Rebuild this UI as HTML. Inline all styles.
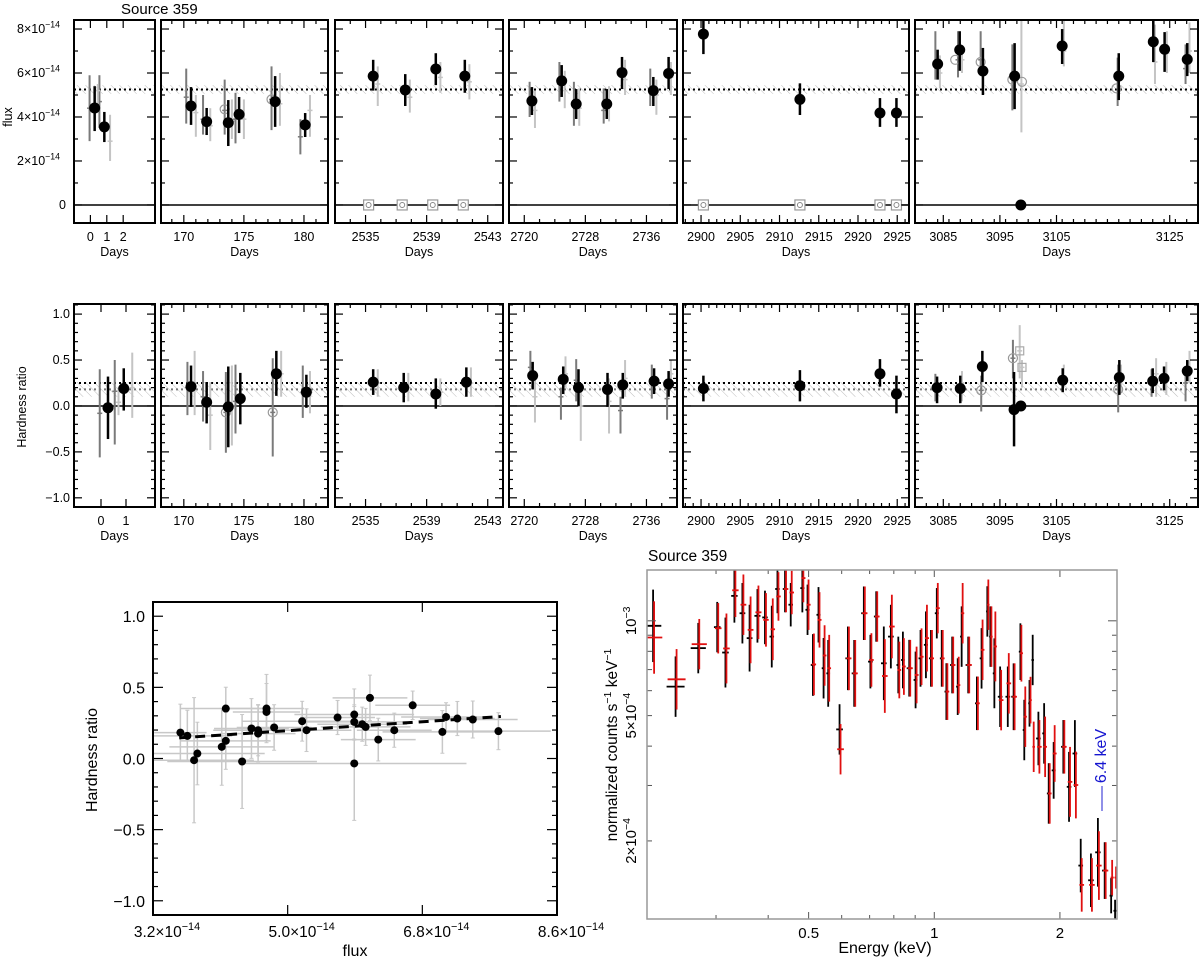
<!DOCTYPE html>
<html><head><meta charset="utf-8"><title>Source 359</title>
<style>
html,body{margin:0;padding:0;background:#fff;}
svg{display:block;font-family:"Liberation Sans",sans-serif;}
</style></head>
<body>
<svg id="fig" width="1200" height="962" viewBox="0 0 1200 962" xmlns="http://www.w3.org/2000/svg">
<defs>
<pattern id="hatch" patternUnits="userSpaceOnUse" width="6" height="6" patternTransform="rotate(-45)">
<line x1="0" y1="0" x2="0" y2="6" stroke="#bdbdbd" stroke-width="1"/>
</pattern>
</defs>
<text x="121" y="14" font-size="15">Source 359</text>
<g id="top"></g>
<g id="mid"></g>
<g id="scat"></g>
<g id="spec"></g>
</svg>
<script>
// ===== Flux light curve (units 1e-14) =====
const fPanel=[0,0,1,1,1,1,1,1,2,2,2,2,3,3,3,3,3,3,3,4,4,4,4,5,5,5,5,5,5,5,5,5,5];
const fDay=[0.26,0.85,170.6,171.9,173.7,174.6,177.6,180.1,2535.5,2537.6,2539.6,2541.5,2721.0,2724.9,2726.8,2730.8,2732.8,2736.9,2738.9,2900.3,2912.6,2922.8,2924.9,3084.0,3087.9,3092.0,3097.6,3098.7,3106.0,3116.0,3122.1,3124.1,3128.1];
const fVal=[4.41,3.55,4.5,3.79,3.74,4.12,4.7,3.64,5.86,5.23,6.18,5.86,4.73,5.64,4.59,4.59,6.02,5.2,5.98,7.77,4.8,4.18,4.18,6.41,7.05,6.09,5.86,0.0,7.23,5.86,7.42,7.08,6.62];
const fLo=[3.36,2.86,3.64,3.18,2.68,3.27,3.55,3.09,5.2,4.5,5.45,5.1,4.09,4.91,3.91,3.91,5.27,4.5,5.27,6.86,4.09,3.55,3.55,5.7,6.1,5.0,4.36,0.0,6.41,4.77,6.5,6.05,5.86];
const fHi=[5.4,4.23,5.36,4.41,4.77,4.91,5.86,4.18,6.6,5.95,6.9,6.6,5.36,6.36,5.27,5.27,6.73,5.82,6.73,8.4,5.53,4.86,4.86,7.06,7.9,7.14,7.36,0.0,8.0,6.9,8.4,7.86,7.36];
const gfPanel=[0,0,0,0,1,1,1,1,1,1,1,1,1,1,1,1,2,2,2,2,3,3,3,3,3,3,3,3,3,3,3,3,5,5,5,5,5,5,5,5,5,5,5,5,5];
const gfDay=[-0.05,0.55,1.2,0.45,170.2,171.0,171.6,172.2,173.4,174.0,174.3,175.0,177.3,178.0,179.7,180.5,2535.8,2537.9,2539.9,2541.8,2720.7,2721.4,2724.6,2725.3,2726.5,2727.2,2730.4,2731.1,2733.2,2736.5,2737.3,2739.2,3083.6,3084.4,3087.6,3088.3,3091.6,3097.2,3098.8,3106.3,3115.8,3122.4,3124.5,3127.8,3128.5];
const gfVal=[4.4,4.7,2.9,5.2,4.9,4.2,3.9,3.6,4.3,3.8,3.9,3.9,4.8,4.6,3.1,4.3,5.5,4.9,5.8,5.6,4.8,4.3,5.5,5.2,4.6,4.4,4.3,4.6,5.7,5.3,5.0,5.8,6.5,6.0,6.6,6.6,6.6,5.8,5.5,7.0,5.7,6.5,6.9,6.2,7.0];
const gfLo=[2.9,3.5,2.0,4.6,3.7,3.1,3.2,2.9,3.2,3.0,2.8,3.0,3.4,3.6,2.3,3.1,4.5,4.2,5.1,4.8,4.0,3.5,4.7,4.4,3.6,3.6,3.7,3.8,5.0,4.5,4.1,5.0,5.7,5.3,5.8,6.0,5.9,4.3,3.3,6.3,4.5,5.5,6.0,5.5,6.0];
const gfHi=[5.9,5.9,4.1,5.5,6.2,5.0,5.0,4.4,5.7,4.8,5.1,4.8,6.3,6.0,3.9,5.0,6.3,5.7,6.5,6.4,5.6,5.2,6.5,6.1,5.6,5.3,5.3,5.4,6.6,6.2,5.7,6.5,7.9,6.8,7.9,7.1,7.9,7.3,8.5,8.4,6.7,8.2,7.9,7.3,8.3];
const gfTone=[0,0,1,1,0,1,0,1,0,1,0,1,0,1,0,1,1,1,1,1,0,1,0,1,0,1,0,1,1,0,1,1,0,1,0,1,0,0,1,1,0,1,1,0,1];
const fOpenPanel=[1,1,5,5,5,5,5];
const fOpenDay=[173.4,177.3,3087.1,3091.6,3097.2,3098.9,3115.6];
const fOpenVal=[4.35,4.8,6.6,6.5,5.7,5.6,5.3];
const fZeroPanel=[2,2,2,2,4,4,4,4];
const fZeroDay=[2535.2,2537.4,2539.4,2541.4,2900.3,2912.6,2922.8,2924.9];
const fMean=[5.25];
const fBand=[5.05,5.45];
const fYTicks=[0,2,4,6,8];

// ===== Hardness ratio light curve =====
const hPanel=[0,0,1,1,1,1,1,1,2,2,2,2,3,3,3,3,3,3,3,4,4,4,4,5,5,5,5,5,5,5,5,5,5];
const hDay=[0.28,0.91,170.6,171.9,173.7,174.7,177.7,180.2,2535.5,2537.5,2539.6,2541.6,2721.1,2725.1,2727.1,2730.9,2732.9,2737.0,2738.9,2900.3,2912.6,2922.8,2924.9,3083.9,3088.0,3091.9,3097.5,3098.7,3106.1,3116.1,3122.0,3124.0,3128.1];
const hVal=[-0.02,0.19,0.21,0.04,-0.01,0.08,0.35,0.15,0.26,0.2,0.13,0.26,0.33,0.29,0.2,0.18,0.23,0.27,0.24,0.19,0.22,0.35,0.13,0.2,0.19,0.43,-0.04,0.0,0.28,0.31,0.27,0.3,0.38];
const hLo=[-0.36,-0.05,-0.01,-0.19,-0.45,-0.2,0.11,-0.02,0.12,0.04,-0.03,0.1,0.18,0.13,0.0,-0.01,0.08,0.13,0.1,0.05,0.05,0.21,-0.08,0.03,0.03,0.26,-0.44,0.0,0.15,0.12,0.14,0.17,0.27];
const hHi=[0.32,0.41,0.44,0.26,0.43,0.36,0.6,0.34,0.4,0.36,0.3,0.42,0.48,0.43,0.4,0.36,0.36,0.41,0.38,0.33,0.39,0.51,0.33,0.32,0.33,0.6,0.37,0.0,0.41,0.5,0.41,0.43,0.5];
const ghPanel=[0,0,0,0,1,1,1,1,1,1,1,1,1,1,1,2,2,2,2,3,3,3,3,3,3,3,3,3,3,3,3,5,5,5,5,5,5,5,5,5,5,5,5,5,5];
const ghDay=[-0.05,0.55,0.7,1.25,170.3,170.9,171.6,172.2,173.5,174.0,174.3,177.4,178.1,179.9,180.5,2535.8,2537.8,2539.9,2541.9,2720.8,2721.4,2724.8,2725.4,2726.8,2727.4,2731.1,2732.6,2733.2,2736.7,2738.7,2739.2,3083.6,3088.3,3091.7,3097.3,3098.5,3098.9,3106.3,3115.9,3116.4,3121.8,3122.6,3124.4,3127.8,3128.5];
const ghVal=[-0.08,0.16,0.04,0.2,0.2,0.25,0.1,-0.1,-0.07,0.0,0.05,-0.07,0.35,0.15,0.15,0.25,0.2,0.15,0.25,0.42,0.1,0.1,0.35,0.28,0.0,0.05,-0.05,0.3,0.25,0.08,0.35,0.2,0.25,0.17,0.52,0.6,0.42,0.3,0.18,0.35,0.25,0.35,0.3,0.25,0.4];
const ghLo=[-0.56,-0.42,-0.1,-0.13,-0.1,-0.1,-0.17,-0.48,-0.51,-0.43,-0.3,-0.55,0.1,-0.13,-0.08,0.1,0.05,0.0,0.1,0.3,-0.18,-0.15,0.2,0.05,-0.38,-0.3,-0.3,0.1,0.08,-0.15,0.2,0.05,0.05,-0.06,0.3,0.3,0.2,0.2,-0.07,0.15,0.1,0.1,0.12,0.05,0.25];
const ghHi=[0.4,0.5,0.2,0.58,0.48,0.6,0.38,0.26,0.37,0.44,0.45,0.52,0.6,0.44,0.38,0.4,0.36,0.3,0.42,0.6,0.3,0.2,0.54,0.51,0.2,0.3,0.1,0.5,0.45,0.2,0.5,0.35,0.38,0.33,0.72,0.88,0.5,0.45,0.45,0.45,0.4,0.52,0.48,0.35,0.6];
const ghTone=[0,0,1,1,0,1,0,1,0,1,0,0,1,0,1,1,1,1,1,0,1,0,1,0,1,1,0,1,0,0,1,0,1,0,0,1,1,1,0,1,0,1,1,0,1];
const hOpenPanel=[1,1,5,5,5];
const hOpenDay=[173.5,177.4,3091.7,3097.3,3115.9];
const hOpenVal=[-0.07,-0.07,0.17,0.52,0.18];
const hSqPanel=[5,5];
const hSqDay=[3098.5,3098.9];
const hSqVal=[0.6,0.42];
const hMean=[0.25,0.18];
const hBand=[0.10,0.26];
const hYTicks=[-1.0,-0.5,0.0,0.5,1.0];
const hYLabels=["\u22121.0","\u22120.5","0.0","0.5","1.0"];

// panel day ticks (labels)
const topTicks=[[0,1,2],[170,175,180],[2535,2539,2543],[2720,2728,2736],[2900,2905,2910,2915,2920,2925],[3085,3095,3105,3125]];
const midTicks0=[0,1];

// ===== Hardness vs flux scatter =====
const sFlux=[3.566,3.659,3.749,3.793,4.119,4.173,4.173,4.391,4.516,4.605,4.605,4.717,4.717,4.819,5.194,5.252,5.667,5.89,5.89,5.89,5.997,6.042,6.1,6.211,6.425,6.671,7.068,7.117,7.268,7.474,7.817];
const sHR=[0.182,0.159,-0.012,0.035,0.082,0.124,0.351,-0.021,0.211,0.199,0.175,0.351,0.327,0.218,0.262,0.199,0.288,0.309,0.257,-0.035,0.241,0.222,0.426,0.133,0.199,0.374,0.187,0.292,0.281,0.274,0.192];
const sHRerr=[0.2,0.18,0.44,0.22,0.27,0.2,0.15,0.33,0.21,0.18,0.2,0.24,0.2,0.16,0.14,0.15,0.12,0.18,0.12,0.4,0.12,0.13,0.16,0.15,0.12,0.1,0.15,0.1,0.12,0.13,0.13];
const sFluxErr=[0.35,0.6,0.8,0.9,0.7,0.6,0.6,1.0,0.5,0.6,0.5,0.5,0.45,0.5,0.8,0.6,0.5,0.8,0.7,1.5,0.6,0.6,0.5,0.5,0.5,0.5,0.8,0.6,0.5,0.6,0.7];
const fitFlux=[3.55,7.85];
const fitHR=[0.145,0.295];
const sXTicks=[3.2,5.0,6.8,8.6];
const sXLabels=["3.2","5.0","6.8","8.6"];
const sYTicks=[-1.0,-0.5,0.0,0.5,1.0];

// ===== Spectrum =====
const eKeV=[0.212,0.240,0.272,0.302,0.316,0.332,0.347,0.361,0.377,0.393,0.408,0.421,0.439,0.453,0.483,0.497,0.512,0.528,0.543,0.557,0.593,0.621,0.643,0.678,0.703,0.726,0.757,0.787,0.820,0.841,0.871,0.902,0.927,0.955,0.982,1.014,1.042,1.069,1.104,1.138,1.163,1.206,1.265,1.298,1.340,1.363,1.393,1.438,1.500,1.549,1.608,1.643,1.691,1.721,1.776,1.833,1.880,1.932,2.038,2.103,2.172,2.243,2.373,2.466,2.560,2.653,2.711];
const blackCts=[0.964,0.618,0.819,0.955,0.793,1.20,1.057,0.881,1.037,1.025,0.891,1.262,1.262,1.125,1.27,1.084,0.724,1.045,0.707,0.681,0.452,0.760,0.681,1.057,0.742,1.032,0.733,0.891,0.724,0.751,0.707,0.649,0.760,0.839,0.760,1.057,0.760,0.596,0.724,0.618,0.891,0.724,0.547,0.760,1.071,0.891,0.681,0.574,0.574,0.574,0.798,0.450,0.547,0.751,0.423,0.439,0.283,0.335,0.398,0.297,0.379,0.167,0.150,0.184,0.161,0.134,0.120];
const redCts=[0.885,0.652,0.843,0.947,0.817,1.25,1.125,0.936,1.064,1.007,0.940,1.195,1.262,1.23,1.367,1.125,0.727,1.007,0.776,0.707,0.391,0.760,0.681,1.057,0.751,1.032,0.668,0.959,0.698,0.716,0.707,0.673,0.769,0.881,0.760,1.097,0.760,0.596,0.724,0.625,1.057,0.724,0.547,0.809,1.125,0.891,0.829,0.560,0.633,0.574,0.789,0.496,0.560,0.398,0.398,0.398,0.283,0.379,0.398,0.308,0.301,0.145,0.145,0.167,0.161,0.153,0.153];
const errDex=[0.115,0.096,0.080,0.080,0.111,0.085,0.096,0.106,0.085,0.085,0.098,0.077,0.074,0.069,0.077,0.080,0.098,0.088,0.096,0.106,0.080,0.101,0.106,0.085,0.085,0.080,0.117,0.101,0.090,0.090,0.090,0.090,0.090,0.106,0.090,0.080,0.090,0.090,0.090,0.090,0.096,0.090,0.085,0.096,0.080,0.096,0.111,0.096,0.096,0.106,0.090,0.096,0.074,0.080,0.085,0.096,0.096,0.090,0.085,0.111,0.106,0.085,0.085,0.109,0.090,0.056,0.035];
const specXMajor=[0.5,1,2];
const specXLabels=["0.5","1","2"];
const specXMinor=[0.3,0.4,0.6,0.7,0.8,0.9];
const specYMinor=[2e-4,3e-4,4e-4,5e-4,6e-4,7e-4,8e-4,9e-4];
const specYMajor=[1e-3];
const lineE=[6.4];

// ========= drawing helpers =========
const NS="http://www.w3.org/2000/svg";
function mk(parent,tag,attrs){const e=document.createElementNS(NS,tag);for(const k in attrs)e.setAttribute(k,attrs[k]);parent.appendChild(e);return e;}
function ln(p,x1,y1,x2,y2,c,w,dash){const e=mk(p,'line',{x1:x1,y1:y1,x2:x2,y2:y2,stroke:c,'stroke-width':w});if(dash)e.setAttribute('stroke-dasharray',dash);return e;}
function txt(p,x,y,s,size,anchor,extra){const e=mk(p,'text',{x:x,y:y,'font-size':size,'text-anchor':anchor||'middle'});e.textContent=s;if(extra)for(const k in extra)e.setAttribute(k,extra[k]);return e;}
function sci(p,x,y,mant,exp,size,anchor){const e=mk(p,'text',{x:x,y:y,'font-size':size,'text-anchor':anchor||'end'});e.appendChild(document.createTextNode(mant+"\u00d710"));const t=mk(e,'tspan',{dy:-size*0.45,'font-size':size*0.7});t.textContent=exp;return e;}

const panelX=[[74,155],[161,328],[335,503],[509,677],[683,909],[915,1198]];
const topDom=[[-1,3.94],[168.1,182],[2533,2544],[2718,2740],[2897.7,2926.5],[3080,3130]];
const midDom=[[-1.08,2.16],[168.1,182],[2533,2544],[2718,2740],[2897.7,2926.5],[3080,3130]];
const minorStep=[0,1,1,2,1,2];
function px(dom,p,d){const[a,b]=dom[p];const[x0,x1]=panelX[p];return x0+(d-a)/(b-a)*(x1-x0);}

function drawRow(g,rowTop,rowBot,yMin,yMax,dom,ticksPerPanel,yTicks,yMinorStep,bandLoHi,means,meanColors,isTop){
  const ys=v=>rowBot-(v-yMin)/(yMax-yMin)*(rowBot-rowTop);
  for(let p=0;p<6;p++){
    const[x0,x1]=panelX[p];
    const pg=mk(g,'g',{});
    
    
    const clip='clip'+(isTop?'t':'m')+p;
    const cp=mk(pg,'clipPath',{id:clip});mk(cp,'rect',{x:x0,y:rowTop,width:x1-x0,height:rowBot-rowTop});
    const inner=mk(pg,'g',{'clip-path':'url(#'+clip+')'});
    const band=mk(inner,'rect',{x:x0,y:ys(bandLoHi[1]),width:x1-x0,height:ys(bandLoHi[0])-ys(bandLoHi[1]),fill:'url(#hatch)'});
    
    
    means.forEach((m,i)=>{const l=ln(inner,x0,ys(m),x1,ys(m),meanColors[i],2,'2,3');});
    const z=ln(inner,x0,ys(0),x1,ys(0),'#000',1.5);
    
    // y ticks
    for(let v=yMin;v<=yMax+1e-9;v+=0.0001){}
    const ystart=Math.ceil(yMin/yMinorStep)*yMinorStep;
    for(let v=ystart;v<=yMax+1e-9;v+=yMinorStep){
      const major=yTicks.some(t=>Math.abs(t-v)<1e-6);const L=major?8:4;const y=ys(v);
      ln(pg,x0,y,x0+L,y,'#000',1.2);ln(pg,x1,y,x1-L,y,'#000',1.2);
    }
    // x ticks
    const tk=ticksPerPanel[p];
    tk.forEach(t=>{const x=px(dom,p,t);ln(pg,x,rowBot,x,rowBot-8,'#000',1.2);ln(pg,x,rowTop,x,rowTop+8,'#000',1.2);
      const lb=txt(pg,x,rowBot+18,String(t),12.5);});
    if(minorStep[p]>0){const[a,b]=dom[p];for(let d=Math.ceil(a);d<=b;d+=minorStep[p]){if(tk.includes(d))continue;const x=px(dom,p,d);ln(pg,x,rowBot,x,rowBot-4,'#000',1.2);ln(pg,x,rowTop,x,rowTop+4,'#000',1.2);}}
    const fr=mk(pg,'rect',{x:x0,y:rowTop,width:x1-x0,height:rowBot-rowTop,fill:'none',stroke:'#000','stroke-width':2});
    
    const dl=txt(pg,(x0+x1)/2,rowBot+33,'Days',12.5);
    
    pg.inner=inner;
    g['p'+p]=inner;
  }
  return ys;
}

// ---- top row ----
const gTop=document.getElementById('top');
const T0=20,T1=223;
const ysT=drawRow(gTop,T0,T1,-0.82,8.41,topDom,topTicks,fYTicks,1,fBand,fMean,['#000'],true);
fYTicks.forEach(v=>{const y=ysT(v)+4;let e;if(v===0)e=txt(gTop,66,y,'0',12.5,'end');else e=sci(gTop,60,y,String(v),'\u221214',12.5,'end');});
{const e=txt(gTop,12,117,'flux',12.5,'middle',{transform:'rotate(-90 12 117)'});}
for(let i=0;i<gfDay.length;i++){const p=gfPanel[i];const g=gTop['p'+p];const x=px(topDom,p,gfDay[i]);const c=gfTone[i]?'#c4c4c4':'#7a7a7a';
  const b=ln(g,x,ysT(gfLo[i]),x,ysT(gfHi[i]),c,2);
  ln(g,x-2.5,ysT(gfVal[i]),x+2.5,ysT(gfVal[i]),c,1.5);}
for(let i=0;i<fOpenDay.length;i++){const p=fOpenPanel[i];const g=gTop['p'+p];const c=mk(g,'circle',{cx:px(topDom,p,fOpenDay[i]),cy:ysT(fOpenVal[i]),r:4.5,fill:'none',stroke:'#999','stroke-width':1.2});}
for(let i=0;i<fZeroDay.length;i++){const p=fZeroPanel[i];const g=gTop['p'+p];const x=px(topDom,p,fZeroDay[i]),y=ysT(0);const r=mk(g,'rect',{x:x-5,y:y-5,width:10,height:10,fill:'#fff',stroke:'#999','stroke-width':1.2});mk(g,'circle',{cx:x,cy:y,r:2.5,fill:'none',stroke:'#888','stroke-width':1});}
for(let i=0;i<fDay.length;i++){const p=fPanel[i];const g=gTop['p'+p];const x=px(topDom,p,fDay[i]);
  if(fHi[i]>fLo[i]){const b=ln(g,x,ysT(fLo[i]),x,ysT(fHi[i]),'#000',2.5);}
  const c=mk(g,'circle',{cx:x,cy:ysT(fVal[i]),r:5.5,fill:'#000'});}

// ---- middle row ----
const gMid=document.getElementById('mid');
const M0=304,M1=507;
const midTicks=[midTicks0].concat(topTicks.slice(1));
const ysM=drawRow(gMid,M0,M1,-1.10,1.11,midDom,midTicks,hYTicks,0.1,hBand,hMean,['#000','#777'],false);
hYTicks.forEach((v,i)=>{const e=txt(gMid,70,ysM(v)+4,hYLabels[i],12.5,'end');});
{const e=txt(gMid,26,407,'Hardness ratio',12.5,'middle',{transform:'rotate(-90 26 407)'});}
for(let i=0;i<ghDay.length;i++){const p=ghPanel[i];const g=gMid['p'+p];const x=px(midDom,p,ghDay[i]);const c=ghTone[i]?'#c4c4c4':'#7a7a7a';
  const b=ln(g,x,ysM(ghLo[i]),x,ysM(ghHi[i]),c,2);
  ln(g,x-2.5,ysM(ghVal[i]),x+2.5,ysM(ghVal[i]),c,1.5);}
for(let i=0;i<hOpenDay.length;i++){const p=hOpenPanel[i];const g=gMid['p'+p];const c=mk(g,'circle',{cx:px(midDom,p,hOpenDay[i]),cy:ysM(hOpenVal[i]),r:4.5,fill:'none',stroke:'#999','stroke-width':1.2});}
for(let i=0;i<hSqDay.length;i++){const p=hSqPanel[i];const g=gMid['p'+p];const x=px(midDom,p,hSqDay[i]),y=ysM(hSqVal[i]);const r=mk(g,'rect',{x:x-4,y:y-4,width:8,height:8,fill:'none',stroke:'#aaa','stroke-width':1.2});}
for(let i=0;i<hDay.length;i++){const p=hPanel[i];const g=gMid['p'+p];const x=px(midDom,p,hDay[i]);
  if(hHi[i]>hLo[i]){const b=ln(g,x,ysM(hLo[i]),x,ysM(hHi[i]),'#000',2.5);}
  const c=mk(g,'circle',{cx:x,cy:ysM(hVal[i]),r:5.5,fill:'#000'});}

// ---- scatter ----
const gS=document.getElementById('scat');
const SX0=153,SX1=557,SY0=602,SY1=915;
const sxs=v=>SX0+(v-3.2)/(8.6-3.2)*(SX1-SX0);
const sys=v=>SY1-(v+1.1)/(2.2)*(SY1-SY0);
{const cp=mk(gS,'clipPath',{id:'sclip'});mk(cp,'rect',{x:SX0,y:SY0,width:SX1-SX0,height:SY1-SY0});}
const sIn=mk(gS,'g',{'clip-path':'url(#sclip)'});
for(let i=0;i<sFlux.length;i++){const x=sxs(sFlux[i]),y=sys(sHR[i]);
  const h=ln(sIn,sxs(sFlux[i]-sFluxErr[i]),y,sxs(sFlux[i]+sFluxErr[i]),y,'#c8c8c8',1.5);
  const v=ln(sIn,x,sys(sHR[i]-sHRerr[i]),x,sys(sHR[i]+sHRerr[i]),'#c8c8c8',1.5);
  ln(sIn,x-2,sys(sHR[i]-sHRerr[i]),x+2,sys(sHR[i]-sHRerr[i]),'#c8c8c8',1);ln(sIn,x-2,sys(sHR[i]+sHRerr[i]),x+2,sys(sHR[i]+sHRerr[i]),'#c8c8c8',1);}
{const f=ln(sIn,sxs(fitFlux[0]),sys(fitHR[0]),sxs(fitFlux[1]),sys(fitHR[1]),'#000',3,'10,6');}
for(let i=0;i<sFlux.length;i++){const c=mk(sIn,'circle',{cx:sxs(sFlux[i]),cy:sys(sHR[i]),r:4,fill:'#000'});}
for(let v=-1.1;v<=1.1001;v+=0.1){const y=sys(v);const major=Math.abs(v*2-Math.round(v*2))<1e-6;const L=major?10:5;ln(gS,SX0,y,SX0+L,y,'#000',1.2);ln(gS,SX1,y,SX1-L,y,'#000',1.2);}
sYTicks.forEach((v,i)=>{const e=txt(gS,SX0-8,sys(v)+6,hYLabels[i],16,'end');});
sXTicks.forEach((v,i)=>{const x=sxs(v);ln(gS,x,SY1,x,SY1-10,'#000',1.2);ln(gS,x,SY0,x,SY0+10,'#000',1.2);const e=sci(gS,x+14,SY1+22,sXLabels[i],'\u221214',15.5,'middle');});
{const r=mk(gS,'rect',{x:SX0,y:SY0,width:SX1-SX0,height:SY1-SY0,fill:'none',stroke:'#000','stroke-width':2});}
{const e=txt(gS,355,956,'flux',16);}
{const e=txt(gS,97,760,'Hardness ratio',16,'middle',{transform:'rotate(-90 97 760)'});}

// ---- spectrum ----
const gP=document.getElementById('spec');
const PX0=647,PX1=1117,PY0=570,PY1=919;
const lE0=Math.log10(0.205),lE1=Math.log10(2.74),lF0=Math.log10(1.13e-4),lF1=Math.log10(1.45e-3);
const exs=e=>PX0+(Math.log10(e)-lE0)/(lE1-lE0)*(PX1-PX0);
const fys=f=>PY1-(Math.log10(f)-lF0)/(lF1-lF0)*(PY1-PY0);
{const cp=mk(gP,'clipPath',{id:'pclip'});mk(cp,'rect',{x:PX0,y:PY0,width:PX1-PX0,height:PY1-PY0});}
const pIn=mk(gP,'g',{'clip-path':'url(#pclip)'});
function series(vals,color,name,shift){
  for(let i=0;i<eKeV.length;i++){
    const e=eKeV[i],f=vals[i]*1e-3;const x=exs(e)+shift;
    const prev=i>0?eKeV[i-1]:e/1.12,next=i<eKeV.length-1?eKeV[i+1]:e*1.03;
    const hw=Math.min(exs(next)-exs(e),exs(e)-exs(prev))*0.4;
    const y=fys(f),yl=fys(f*Math.pow(10,-errDex[i])),yh=fys(f*Math.pow(10,errDex[i]));
    const v=ln(pIn,x,yl,x,yh,color,1.8);
    const h=ln(pIn,x-hw,y,x+hw,y,color,1.8);
  }
}
series(blackCts,'#000','spectrum-black',0);
series(redCts,'#e01010','spectrum-red',1);
const axc='#999';
specXMajor.forEach((e,i)=>{const x=exs(e);ln(gP,x,PY1,x,PY1-7,'#555',1);ln(gP,x,PY0,x,PY0+7,'#555',1);const t=txt(gP,x,PY1+19,specXLabels[i],15);});
specXMinor.forEach(e=>{const x=exs(e);ln(gP,x,PY1,x,PY1-4,'#555',1);ln(gP,x,PY0,x,PY0+4,'#555',1);});
specYMinor.forEach(f=>{const y=fys(f);ln(gP,PX0,y,PX0+5,y,'#555',1);ln(gP,PX1,y,PX1-5,y,'#555',1);});
specYMajor.forEach(f=>{const y=fys(f);ln(gP,PX0,y,PX0+9,y,'#555',1);ln(gP,PX1,y,PX1-9,y,'#555',1);});
{const r=mk(gP,'rect',{x:PX0,y:PY0,width:PX1-PX0,height:PY1-PY0,fill:'none',stroke:axc,'stroke-width':1.5});}
function rsci(x,y,mant,exp){const e=mk(gP,'text',{x:x,y:y,'font-size':15,'text-anchor':'middle',transform:'rotate(-90 '+x+' '+y+')'});e.appendChild(document.createTextNode(mant));const t=mk(e,'tspan',{dy:-6,'font-size':10.5});t.textContent=exp;}
rsci(636,fys(1e-3),'10','\u22123');
rsci(636,fys(5e-4),'5\u00d710','\u22124');
rsci(636,fys(2e-4),'2\u00d710','\u22124');
{const e=mk(gP,'text',{x:617,y:745,'font-size':15.5,'text-anchor':'middle',transform:'rotate(-90 617 745)'});e.appendChild(document.createTextNode('normalized counts s'));let t=mk(e,'tspan',{dy:-6,'font-size':10.5});t.textContent='\u22121';t=mk(e,'tspan',{dy:6});t.textContent=' keV';t=mk(e,'tspan',{dy:-6,'font-size':10.5});t.textContent='\u22121';}
{const e=txt(gP,885,953,'Energy (keV)',16);}
{const e=txt(gP,648,561,'Source 359',15.5,'start');}
// 6.4 keV marker (drawn at right edge region, beyond axis range, as in the figure)
lineE.forEach(e=>{const x=1102;const l=ln(gP,x,786,x,811,'#2020d0',1);
  const t=txt(gP,x+4,756,e.toFixed(1)+' keV',16,'middle',{fill:'#1515d0',transform:'rotate(-90 '+(x+4)+' 756)'});});
</script>
</body></html>
